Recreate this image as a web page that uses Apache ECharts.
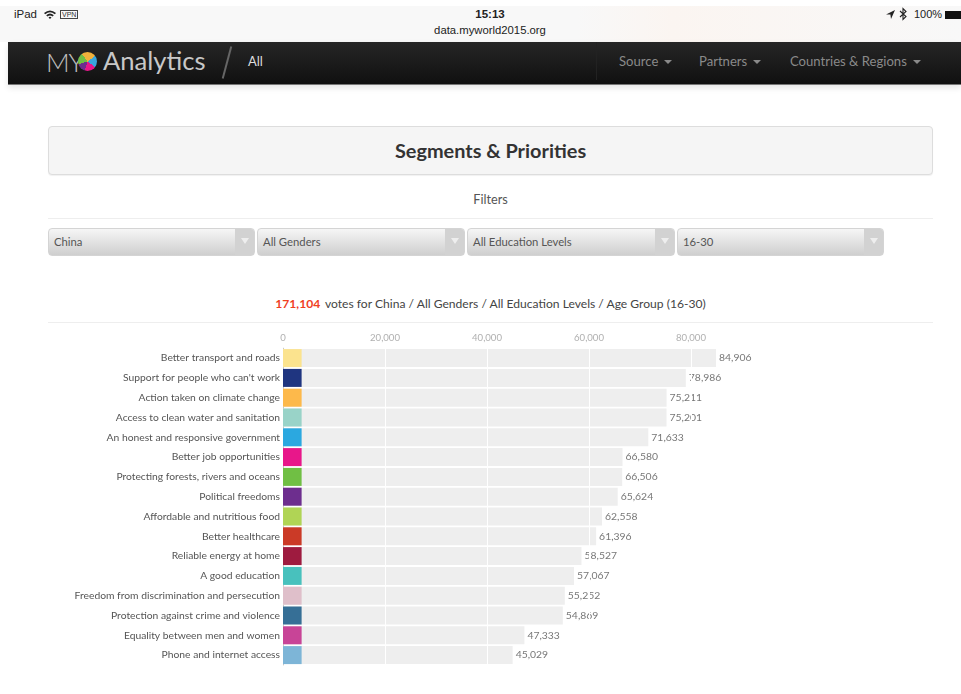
<!DOCTYPE html>
<html><head><meta charset="utf-8">
<script src="https://cdn.jsdelivr.net/npm/echarts@6/dist/echarts.min.js"></script>
<style>
html,body{margin:0;padding:0;background:#fff;width:961px;height:694px;overflow:hidden}
body{font-family:Lato,sans-serif;position:relative}
.a{position:absolute;white-space:nowrap;line-height:1}
#status{position:absolute;left:0;top:6px;width:961px;height:36px;background:linear-gradient(90deg,#f8f8f8 0,#f8f8f8 60%,#fbf5f1 70%,#f8f8f8 100%)}
.ios{font-family:"Liberation Sans",sans-serif;color:#222;font-size:11.5px}
#nav{position:absolute;left:8px;top:42px;width:953px;height:43px;background:linear-gradient(#262626,#101010);border-bottom:1px solid #777;box-sizing:border-box;box-shadow:0 3px 6px rgba(0,0,0,.1)}
.navt{font-size:13.1px;color:#8a8a8a}
.car{display:inline-block;margin-left:6px;border:4px solid transparent;border-top-color:#8a8a8a;border-bottom:0;vertical-align:2px}
#panel{position:absolute;left:48px;top:126px;width:885px;height:49px;box-sizing:border-box;background:#f5f5f5;border:1px solid #ddd;border-radius:4px;box-shadow:0 1px 1px rgba(0,0,0,.06)}
.hr{position:absolute;left:48px;width:885px;height:1px;background:#eee}
.sel{position:absolute;top:228px;height:28px;box-sizing:border-box;border-radius:4px;background:linear-gradient(#f6f6f6,#cfcfcf);border:1px solid #d4d4d4;font-size:11.3px;color:#555;line-height:26px;padding-left:5px}
.sel i{position:absolute;right:0;top:0;width:19px;height:26px;background:#d2d2d2;border-radius:0 3px 3px 0}
.sel i:after{content:"";position:absolute;left:6px;top:9px;border:4px solid transparent;border-top:6px solid #eee;border-bottom:0}
#chart{position:absolute;left:0;top:0;width:961px;height:694px}
</style></head>
<body>
<div id="status"></div>
<div class="a ios" style="left:14px;top:9px">iPad</div>
<svg class="a" style="left:43px;top:9px" width="14" height="11" viewBox="0 0 14 11"><path d="M1 4 Q7 -1 13 4 L11.8 5.2 Q7 1.5 2.2 5.2Z M3.2 6.2 Q7 3 10.8 6.2 L9.6 7.4 Q7 5.4 4.4 7.4Z M5.5 8.5 Q7 7.2 8.5 8.5 L7 10Z" fill="#222"/></svg>
<div class="a ios" style="left:60px;top:10px;font-size:7px;border:1px solid #444;padding:0 1px;color:#333">VPN</div>
<div class="a ios" style="left:465px;top:9px;width:50px;text-align:center;font-weight:bold">15:13</div>
<div class="a ios" style="left:390px;top:25px;width:200px;text-align:center;font-size:11.3px">data.myworld2015.org</div>
<svg class="a" style="left:886px;top:10px" width="9" height="9" viewBox="0 0 9 9"><path d="M0 4.5 L9 0 L5 9 L4.4 4.6Z" fill="#222"/></svg>
<svg class="a" style="left:899px;top:7px" width="8" height="14" viewBox="0 0 8 14"><path d="M1 4 L7 9.5 L4 12.5 L4 1.5 L7 4.5 L1 10" fill="none" stroke="#222" stroke-width="1.1"/></svg>
<div class="a ios" style="left:914px;top:9px;font-size:11px">100%</div>
<div class="a" style="left:945px;top:11px;width:16px;height:8px;background:#111"></div>

<div id="nav"></div>
<div class="a" style="left:46px;top:49px;font-size:26px;font-weight:300;color:#c0c0c0;letter-spacing:-1px">MY</div>
<div class="a" style="left:78px;top:52px;width:19px;height:19px;border-radius:50%;background:conic-gradient(#f0b13c 0 15%,#3aa6dd 15% 35%,#e8178a 35% 55%,#6d2e8e 55% 70%,#70bf44 70% 90%,#f0b13c 90%)"></div>
<div class="a" style="left:103px;top:48px;font-size:25.6px;font-weight:400;color:#c8c8c8">Analytics</div>
<div class="a" style="left:226px;top:46px;width:2px;height:33px;background:#666;transform:rotate(15deg)"></div>
<div class="a" style="left:248px;top:55px;font-size:13px;color:#ddd">All</div>
<div class="a" style="left:596px;top:42px;width:1px;height:38px;background:#222"></div>
<div class="a navt" style="left:619px;top:55px">Source<span class="car"></span></div>
<div class="a navt" style="left:699px;top:55px">Partners<span class="car"></span></div>
<div class="a navt" style="left:790px;top:55px">Countries &amp; Regions<span class="car"></span></div>

<div id="panel"></div>
<div class="a" style="left:48px;top:141px;width:885px;text-align:center;font-size:19.9px;font-weight:700;color:#333">Segments &amp; Priorities</div>
<div class="a" style="left:48px;top:193px;width:885px;text-align:center;font-size:12.7px;color:#555">Filters</div>
<div class="hr" style="top:218px"></div>
<div class="sel" style="left:48px;width:207px">China<i></i></div>
<div class="sel" style="left:257px;width:208px">All Genders<i></i></div>
<div class="sel" style="left:467px;width:208px">All Education Levels<i></i></div>
<div class="sel" style="left:677px;width:207px">16-30<i></i></div>
<div class="a" style="left:48px;top:298px;width:885px;text-align:center;font-size:12.1px;color:#444"><span style="color:#f0401f;font-weight:700;margin-right:2px">171,104</span> votes for China / All Genders / All Education Levels / Age Group (16-30)</div>
<div class="hr" style="top:322px"></div>

<div id="chart"></div>
<script>
const categories = ["Better transport and roads","Support for people who can't work","Action taken on climate change","Access to clean water and sanitation","An honest and responsive government","Better job opportunities","Protecting forests, rivers and oceans","Political freedoms","Affordable and nutritious food","Better healthcare","Reliable energy at home","A good education","Freedom from discrimination and persecution","Protection against crime and violence","Equality between men and women","Phone and internet access"];
const votes = [84906,78986,75211,75201,71633,66580,66506,65624,62558,61396,58527,57067,55252,54869,47333,45029];
const swatchColors = ["#fbe38e","#1f3580","#fdb94b","#99d3c8","#2ba8e0","#e8178a","#70bf44","#6d2e8e","#b0d455","#cb3a27","#9e1b3f","#48c1bd","#dfbfca","#366f96","#c84497","#7db5d7"];
const swatchValue = 3650;
const xTicks = [20000,40000,60000,80000];

const chart = echarts.init(document.getElementById('chart'), null, {renderer:'canvas'});
chart.setOption({
  animation:false,
  backgroundColor:'transparent',
  grid:{left:283,top:348.2,width:459,height:316.8,containLabel:false},
  xAxis:{type:'value',position:'top',min:0,max:90000,interval:20000,
    axisLine:{show:false},axisTick:{show:false},splitLine:{show:false},
    axisLabel:{show:true,showMaxLabel:false,margin:5,color:'#b0b0b0',fontSize:9.6,fontFamily:'Lato',formatter:v=>v.toLocaleString('en-US')}},
  yAxis:{type:'category',inverse:true,data:categories,
    axisLine:{show:true,lineStyle:{color:'#c8c8c8',width:1}},axisTick:{show:false},
    axisLabel:{margin:3,color:'#555',fontSize:10.3,fontFamily:'Lato'}},
  series:[
    {type:'bar',name:'Votes',data:votes,barWidth:18,barGap:'-100%',silent:true,
     itemStyle:{color:'#eeeeee'},
     label:{show:true,position:'right',distance:3,color:'#777',fontSize:10.4,fontFamily:'Lato',formatter:p=>p.value.toLocaleString('en-US')},
     markLine:{silent:true,symbol:'none',label:{show:false},lineStyle:{color:'#fff',width:1,type:'solid'},data:xTicks.map(v=>({xAxis:v}))}},
    {type:'bar',name:'Priority',barWidth:18,barGap:'-100%',silent:true,z:5,
     data:swatchColors.map(c=>({value:swatchValue,itemStyle:{color:c}}))}
  ]
});
</script>
</body></html>
